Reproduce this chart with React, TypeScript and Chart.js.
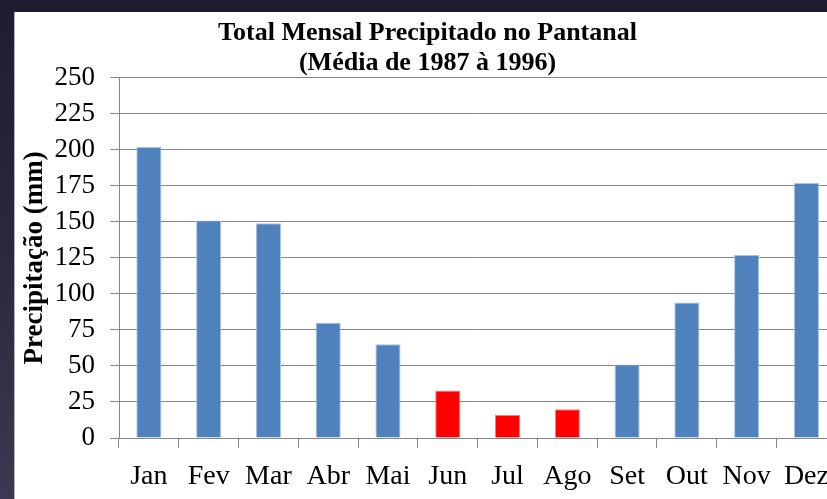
import React, { useEffect, useRef } from "react";
import { Chart, registerables } from "chart.js";

Chart.register(...registerables);

const months = ["Jan", "Fev", "Mar", "Abr", "Mai", "Jun", "Jul", "Ago", "Set", "Out", "Nov", "Dez"];
const precipitation = [202, 151, 149, 80, 65, 33, 16, 20, 51, 94, 127, 177];
const dryMonths = ["Jun", "Jul", "Ago"];
const titleLines = ["Total Mensal Precipitado no Pantanal", "(Média de 1987 à 1996)"];
const yAxisTitle = "Precipitação (mm)";

const BLUE = "#4f81bd";
const BLUE_EDGE = "#a9c1e0";
const RED = "#ff0000";
const RED_EDGE = "#ff7a7a";
const GRID = "#868686";
const FONT = "'Liberation Serif', 'Times New Roman', serif";

export default function App() {
  const canvasRef = useRef<HTMLCanvasElement | null>(null);

  useEffect(() => {
    const canvas = canvasRef.current;
    if (!canvas) return;
    const fill = months.map((m) => (dryMonths.includes(m) ? RED : BLUE));
    const edge = months.map((m) => (dryMonths.includes(m) ? RED_EDGE : BLUE_EDGE));
    const chart = new Chart(canvas, {
      type: "bar",
      data: {
        labels: months,
        datasets: [
          {
            data: precipitation,
            backgroundColor: fill,
            borderColor: edge,
            borderWidth: 1,
            barPercentage: 0.42,
            categoryPercentage: 1,
          },
        ],
      },
      options: {
        responsive: false,
        animation: false,
        devicePixelRatio: 1,
        layout: { padding: { left: 0, right: 1, top: 0, bottom: 0 } },
        plugins: {
          legend: { display: false },
          tooltip: { enabled: false },
          title: {
            display: true,
            text: titleLines,
            color: "#000",
            font: { family: FONT, size: 26, weight: "bold", lineHeight: 1.15 },
            padding: { top: 6, bottom: 0 },
          },
        },
        scales: {
          x: {
            grid: {
              display: true,
              drawOnChartArea: false,
              drawTicks: true,
              tickLength: 10,
              color: GRID,
              offset: true,
            },
            border: { display: true, color: GRID },
            ticks: {
              color: "#000",
              font: { family: FONT, size: 28 },
              padding: 12,
              maxRotation: 0,
              autoSkip: false,
            },
            afterFit: (s: any) => {
              s.height = 61;
            },
          },
          y: {
            min: 0,
            max: 250,
            grid: { color: GRID, drawTicks: true, tickLength: 9 },
            border: { display: true, color: GRID },
            ticks: {
              stepSize: 25,
              color: "#000",
              font: { family: FONT, size: 27 },
              padding: 15,
            },
            title: {
              display: true,
              text: yAxisTitle,
              color: "#000",
              font: { family: FONT, size: 27, weight: "bold", lineHeight: 1.2 },
              padding: { top: 4, bottom: 0 },
            },
            afterFit: (s: any) => {
              s.width = 104;
            },
          },
        },
      },
    });
    return () => chart.destroy();
  }, []);

  return (
    <div
      style={{
        position: "fixed",
        left: 0,
        top: 0,
        width: 827,
        height: 499,
        overflow: "hidden",
        background: "linear-gradient(to bottom, #1e1c31 0%, #2a283f 50%, #3b3951 100%)",
      }}
    >
      <div
        style={{
          position: "absolute",
          left: 14,
          top: 12,
          width: 1,
          height: 487,
          background: "#b4b4bc",
        }}
      />
      <div
        style={{
          position: "absolute",
          left: 15,
          top: 12,
          width: 826,
          height: 487,
          background: "#fff",
        }}
      >
        <canvas
          ref={canvasRef}
          width={826}
          height={487}
          style={{ display: "block", width: 826, height: 487 }}
        />
      </div>
    </div>
  );
}
